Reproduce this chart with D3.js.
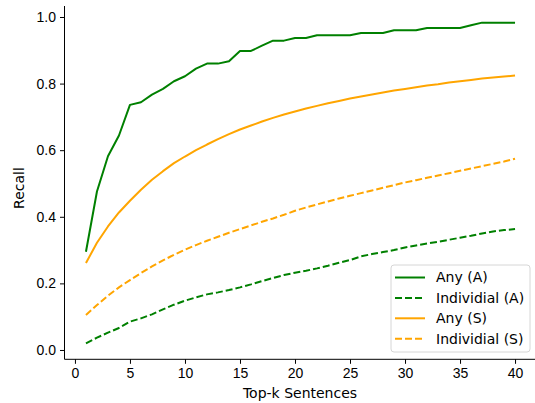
<!DOCTYPE html>
<html>
<head>
<meta charset="utf-8">
<script src="https://cdn.jsdelivr.net/npm/d3@7"></script>
<style>
  body { margin: 0; background: #fff; }
  svg { font-family: "DejaVu Sans", sans-serif; }
  .axis text { font-size: 14px; fill: #000; }
  .axis line, .axis path { stroke: #000; stroke-width: 1; }
</style>
</head>
<body>
<svg id="chart"></svg>
<script>
// Top-k values on the x axis
const topK = d3.range(1, 41);

// Recall per top-k
const anyA = [0.295, 0.476, 0.582, 0.644, 0.736, 0.744, 0.767, 0.784, 0.807, 0.822,
  0.845, 0.860, 0.860, 0.867, 0.898, 0.898, 0.914, 0.929, 0.929, 0.937,
  0.937, 0.945, 0.945, 0.945, 0.945, 0.952, 0.952, 0.952, 0.960, 0.960,
  0.960, 0.967, 0.967, 0.967, 0.967, 0.975, 0.983, 0.983, 0.983, 0.983];
const indivA = [0.020, 0.037, 0.052, 0.066, 0.085, 0.095, 0.107, 0.122, 0.136, 0.148,
  0.158, 0.167, 0.173, 0.180, 0.188, 0.197, 0.207, 0.216, 0.225, 0.232,
  0.238, 0.245, 0.253, 0.262, 0.270, 0.281, 0.288, 0.294, 0.300, 0.308,
  0.314, 0.320, 0.325, 0.331, 0.337, 0.343, 0.350, 0.356, 0.360, 0.363];
const anyS = [0.261, 0.322, 0.371, 0.413, 0.448, 0.481, 0.511, 0.537, 0.561, 0.581,
  0.600, 0.617, 0.633, 0.648, 0.662, 0.674, 0.686, 0.697, 0.707, 0.716,
  0.725, 0.733, 0.741, 0.748, 0.755, 0.761, 0.767, 0.773, 0.779, 0.784,
  0.789, 0.794, 0.798, 0.803, 0.807, 0.811, 0.815, 0.818, 0.821, 0.824];
const indivS = [0.105, 0.135, 0.163, 0.188, 0.210, 0.231, 0.251, 0.269, 0.286, 0.301,
  0.315, 0.328, 0.340, 0.352, 0.363, 0.374, 0.385, 0.395, 0.406, 0.418,
  0.428, 0.437, 0.446, 0.455, 0.463, 0.471, 0.479, 0.487, 0.495, 0.503,
  0.510, 0.517, 0.524, 0.531, 0.538, 0.545, 0.552, 0.559, 0.566, 0.574];

const seriesNames = ['Any (A)', 'Individial (A)', 'Any (S)', 'Individial (S)'];
const xTicks = [0, 5, 10, 15, 20, 25, 30, 35, 40];
const yTicks = [0.0, 0.2, 0.4, 0.6, 0.8, 1.0];

const series = [
  {name: seriesNames[0], values: anyA, color: 'green', dash: null},
  {name: seriesNames[1], values: indivA, color: 'green', dash: '7,3'},
  {name: seriesNames[2], values: anyS, color: 'orange', dash: null},
  {name: seriesNames[3], values: indivS, color: 'orange', dash: '7,3'}
];

const width = 535, height = 403;

const svg = d3.select('#chart')
    .attr('width', width)
    .attr('height', height);

// matplotlib-like 5% margins around the data
const xScale = d3.scaleLinear()
    .domain([-0.95, 41.95])
    .range([64.5, 536.5]);

const yScale = d3.scaleLinear()
    .domain([-0.028, 1.033])
    .range([359.3, 6]);

const xAxis = d3.axisBottom(xScale)
    .tickValues(xTicks)
    .tickSize(4.5)
    .tickPadding(4)
    .tickFormat(d3.format('d'));

const yAxis = d3.axisLeft(yScale)
    .tickValues(yTicks)
    .tickSize(4.5)
    .tickPadding(4)
    .tickFormat(d3.format('.1f'));

svg.append('g')
    .attr('class', 'axis x-axis')
    .attr('transform', `translate(0,${yScale.range()[0]})`)
    .call(xAxis)
    .call(g => g.select('.domain').attr('d', `M${xScale.range()[0]},0H${xScale.range()[1]}`));

svg.append('g')
    .attr('class', 'axis y-axis')
    .attr('transform', `translate(${xScale.range()[0]},0)`)
    .call(yAxis)
    .call(g => g.select('.domain').attr('d', `M0,${yScale.range()[0]}V${yScale.range()[1]}`));

// Axis titles
svg.append('text')
    .attr('x', 300)
    .attr('y', 398)
    .attr('text-anchor', 'middle')
    .style('font-size', '14px')
    .text('Top-k Sentences');

svg.append('text')
    .attr('transform', 'translate(24,188) rotate(-90)')
    .attr('text-anchor', 'middle')
    .style('font-size', '14px')
    .text('Recall');

// Lines
const line = d3.line()
    .x((d, i) => xScale(topK[i]))
    .y(d => yScale(d));

svg.selectAll('.series')
    .data(series)
  .join('path')
    .attr('class', 'series')
    .attr('fill', 'none')
    .attr('stroke', d => d.color)
    .attr('stroke-width', 2)
    .attr('stroke-linejoin', 'round')
    .attr('stroke-dasharray', d => d.dash)
    .attr('d', d => line(d.values));

// Legend
const legend = svg.append('g')
    .attr('transform', 'translate(391,265)');

legend.append('rect')
    .attr('width', 139)
    .attr('height', 87)
    .attr('rx', 3)
    .attr('fill', '#fff')
    .attr('fill-opacity', 0.8)
    .attr('stroke', '#d6d6d6');

const items = legend.selectAll('.item')
    .data(series)
  .join('g')
    .attr('class', 'item')
    .attr('transform', (d, i) => `translate(0,${12.5 + i * 20.4})`);

items.append('line')
    .attr('x1', 4)
    .attr('x2', 34)
    .attr('stroke', d => d.color)
    .attr('stroke-width', 2)
    .attr('stroke-dasharray', d => d.dash);

items.append('text')
    .attr('x', 45)
    .attr('dy', '0.35em')
    .style('font-size', '14px')
    .text(d => d.name);
</script>
</body>
</html>
